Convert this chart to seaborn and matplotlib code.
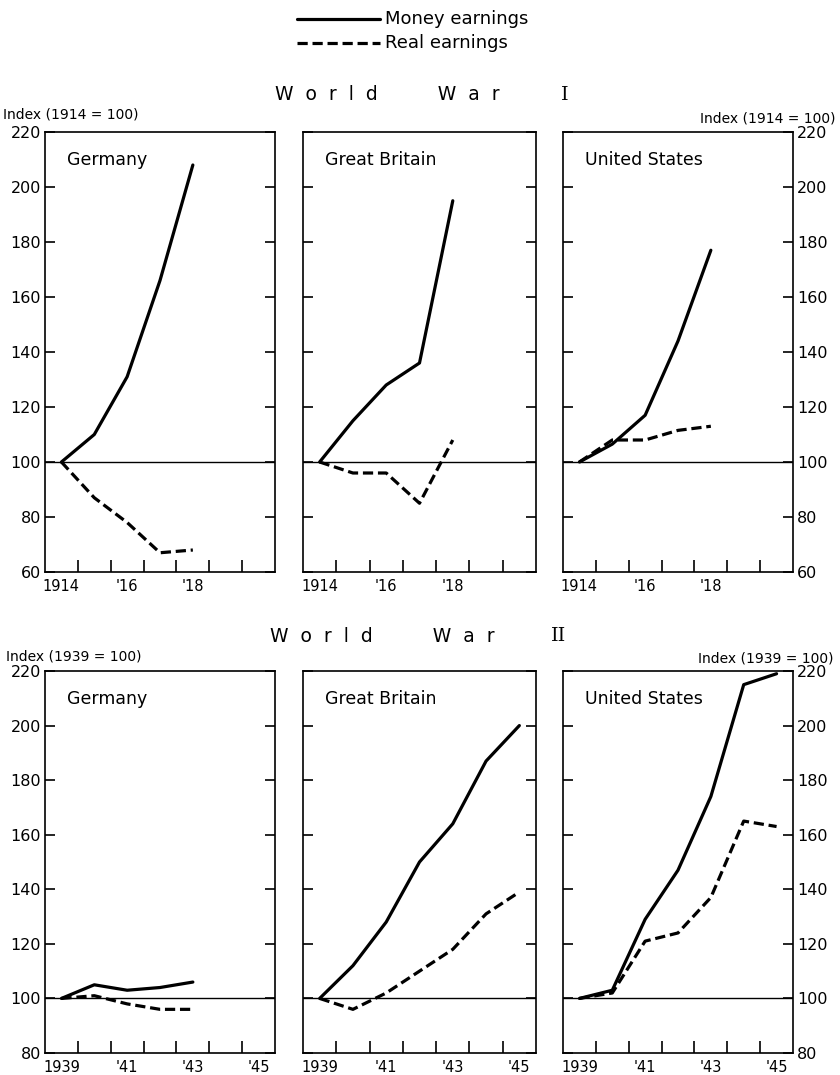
import seaborn as sns
import numpy as np
import pandas as pd
import matplotlib.pyplot as plt
from matplotlib.lines import Line2D

# money vs real earnings in the two world wars (index, first year = 100)

countries = ['Germany', 'Great Britain', 'United States']

### World War I ###
years_ww1 = [1914, 1915, 1916, 1917, 1918]
ger_ww1_money = [100, 110, 131, 166, 208]
ger_ww1_real = [100, 87, 78, 67, 68]
gb_ww1_money = [100, 115, 128, 136, 195]
gb_ww1_real = [100, 96, 96, 85, 108]
us_ww1_money = [100, 106.5, 117, 144, 177]
us_ww1_real = [100, 108, 108, 111.5, 113]
ww1_ticks = [1914, 1916, 1918]
ww1_ticklabels = ['1914', "'16", "'18"]

### World War II ###
years_ww2 = [1939, 1940, 1941, 1942, 1943, 1944, 1945]
ger_ww2_years = [1939, 1940, 1941, 1942, 1943]
ger_ww2_money = [100, 105, 103, 104, 106]
ger_ww2_real = [100, 101, 98, 96, 96]
gb_ww2_money = [100, 112, 128, 150, 164, 187, 200]
gb_ww2_real = [100, 96, 102, 110, 118, 131, 139]
us_ww2_money = [100, 103, 129, 147, 174, 215, 219]
us_ww2_real = [100, 102, 121, 124, 137, 165, 163]
ww2_ticks = [1939, 1941, 1943, 1945]
ww2_ticklabels = ['1939', "'41", "'43", "'45"]

series_names = ['Money earnings', 'Real earnings']


def make_df(years, money, real):
    return pd.DataFrame({
        'year': list(years) * 2,
        'index': list(money) + list(real),
        'series': [series_names[0]] * len(money) + [series_names[1]] * len(real),
    })


ww1_data = [make_df(years_ww1, ger_ww1_money, ger_ww1_real),
            make_df(years_ww1, gb_ww1_money, gb_ww1_real),
            make_df(years_ww1, us_ww1_money, us_ww1_real)]
ww2_data = [make_df(ger_ww2_years, ger_ww2_money, ger_ww2_real),
            make_df(years_ww2, gb_ww2_money, gb_ww2_real),
            make_df(years_ww2, us_ww2_money, us_ww2_real)]

sns.set_style('ticks')
plt.rcParams['font.family'] = ['DejaVu Sans']
plt.rcParams['axes.linewidth'] = 1.2
plt.rcParams['text.color'] = 'black'
plt.rcParams['xtick.color'] = 'black'
plt.rcParams['ytick.color'] = 'black'
plt.rcParams['axes.edgecolor'] = 'black'

W, H = 840, 1075
fig = plt.figure(figsize=(W / 100, H / 100), dpi=100)

LW = 2.3
DASH = (3.2, 1.5)
line_dashes = {series_names[0]: '', series_names[1]: DASH}


def px_axes(l, t, r, b):
    return fig.add_axes([l / W, 1 - b / H, (r - l) / W, (b - t) / H])


lefts = [45, 303, 563]
rights = [275, 536, 793]


def draw_row(data, top, bottom, first_year, ylo, ticks, ticklabels):
    for i, df in enumerate(data):
        ax = px_axes(lefts[i], top, rights[i], bottom)
        ax.axhline(100, color='black', lw=1.0, zorder=1)
        sns.lineplot(data=df, x='year', y='index', style='series',
                     dashes=line_dashes, color='black', lw=LW,
                     legend=False, ax=ax)
        ax.set_xlim(first_year - 0.5, first_year + 6.5)
        ax.set_ylim(ylo, 220)
        ax.set_yticks(np.arange(ylo, 221, 20))
        ax.set_xticks(ticks)
        ax.set_xticklabels(ticklabels)
        ax.set_xticks(np.arange(first_year + 0.5, first_year + 6), minor=True)
        ax.tick_params(axis='x', which='major', length=0, pad=5, labelsize=10.5)
        ax.tick_params(axis='x', which='minor', direction='in', length=9,
                       width=1.2, bottom=True, top=False)
        ax.tick_params(axis='y', which='major', direction='in', length=7,
                       width=1.2, left=True, right=True,
                       labelleft=(i == 0), labelright=(i == 2),
                       labelsize=11.5, pad=3)
        ax.tick_params(axis='y', which='minor', left=False, right=False)
        ax.set_xlabel('')
        ax.set_ylabel('')
        for s in ax.spines.values():
            s.set_visible(True)
        ax.annotate(countries[i], xy=(0, 1), xycoords='axes fraction',
                    xytext=(16, -20), textcoords='offset points',
                    ha='left', va='center', fontsize=12.5)


draw_row(ww1_data, 132, 572, 1914, 60, ww1_ticks, ww1_ticklabels)
draw_row(ww2_data, 671, 1053, 1939, 80, ww2_ticks, ww2_ticklabels)

# titles
fig.text(275 / W, 1 - 95 / H, 'W  o  r  l  d          W  a  r',
         ha='left', va='center', fontsize=13.5)
fig.text(565 / W, 1 - 95 / H, 'I', ha='center', va='center',
         fontsize=14, family='DejaVu Serif')
fig.text(270 / W, 1 - 636 / H, 'W  o  r  l  d          W  a  r',
         ha='left', va='center', fontsize=13.5)
fig.text(559 / W, 1 - 636 / H, 'II', ha='center', va='center',
         fontsize=14, family='DejaVu Serif')

# index captions
fig.text(3 / W, 1 - 114 / H, 'Index (1914 = 100)', ha='left', va='center', fontsize=10)
fig.text(835 / W, 1 - 118 / H, 'Index (1914 = 100)', ha='right', va='center', fontsize=10)
fig.text(6 / W, 1 - 657 / H, 'Index (1939 = 100)', ha='left', va='center', fontsize=10)
fig.text(833 / W, 1 - 659 / H, 'Index (1939 = 100)', ha='right', va='center', fontsize=10)

# legend
for k, (name, ypx) in enumerate(zip(series_names, [19, 43])):
    ln = Line2D([297 / W, 380 / W], [1 - ypx / H] * 2, transform=fig.transFigure,
                color='black', lw=LW)
    if k == 1:
        ln.set_dashes(DASH)
    fig.add_artist(ln)
    fig.text(385 / W, 1 - ypx / H, name, ha='left', va='center', fontsize=13)

fig.savefig('out.png', dpi=100, facecolor='white')
